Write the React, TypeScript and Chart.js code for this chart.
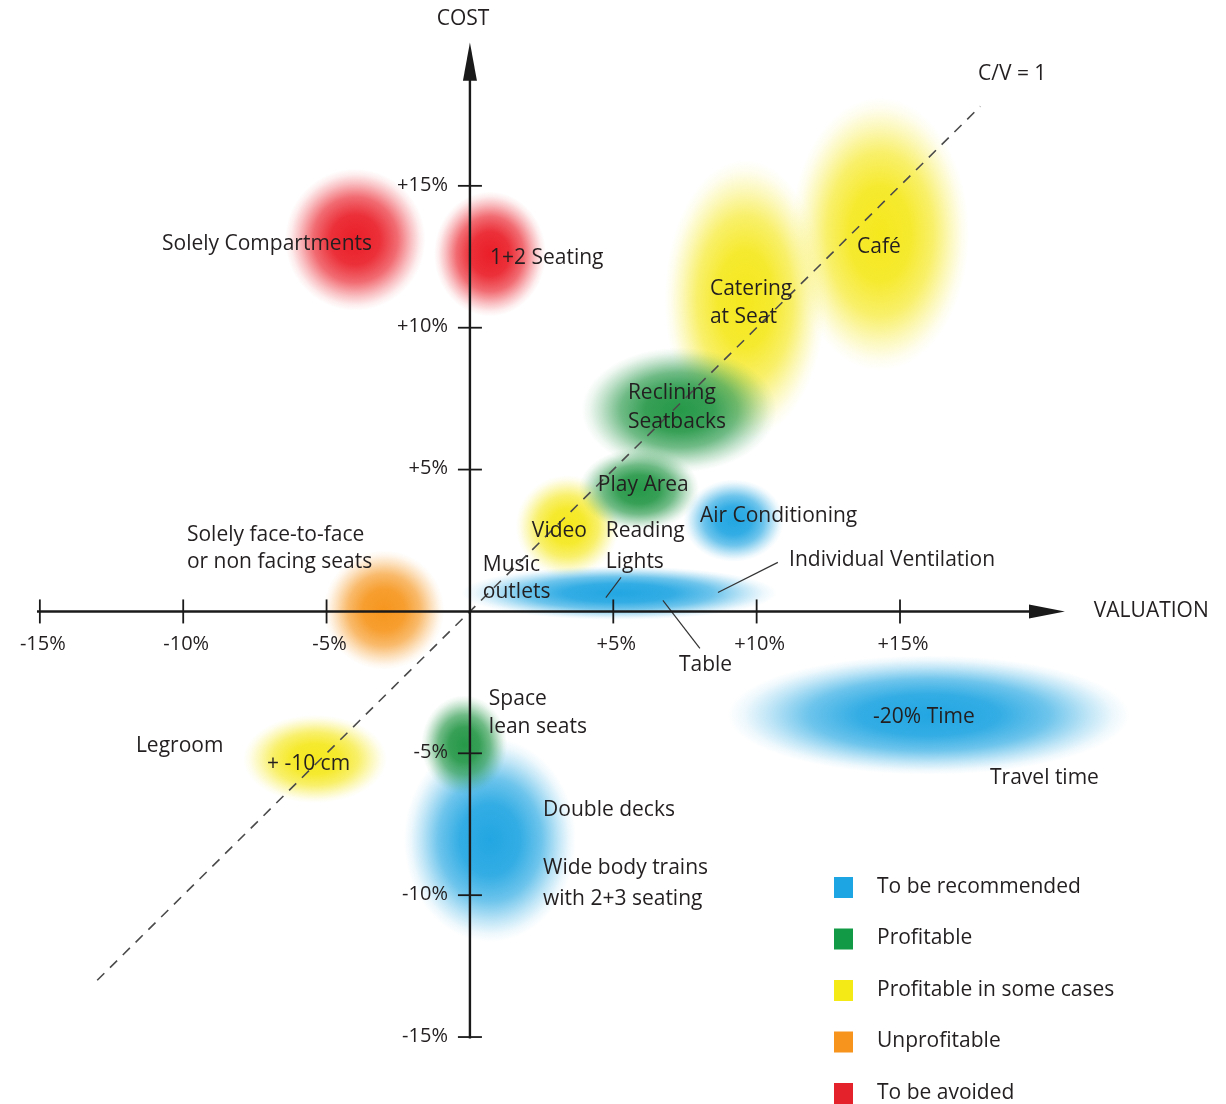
import React, { useEffect, useRef } from "react";
import { Chart, registerables } from "chart.js";

Chart.register(...registerables);

const FONT = '"Open Sans", "DejaVu Sans", sans-serif';
const INK = "#231f20";

// Axis ranges (percent)
const X_MIN = -16.39;
const X_MAX = 26.37;
const Y_MIN = -17.36;
const Y_MAX = 21.55;

// Tick values and labels
const xTickValues = [-15, -10, -5, 5, 10, 15];
const xTickLabels = ["-15%", "-10%", "-5%", "+5%", "+10%", "+15%"];
const yTickValues = [15, 10, 5, -5, -10, -15];
const yTickLabels = ["+15%", "+10%", "+5%", "-5%", "-10%", "-15%"];

// Legend categories
const categories = ["To be recommended", "Profitable", "Profitable in some cases", "Unprofitable", "To be avoided"];
const categoryColors = ["#1ca5e2", "#139a46", "#f3ea16", "#f7941d", "#e4222b"];
const categoryRGB = ["34,166,226", "38,152,72", "245,232,30", "246,150,30", "234,30,40"];

// Feature zones (draw order): category, valuation centre, cost centre, spread in valuation, spread in cost
const featureNames = [
  "Café", "Catering at Seat", "Legroom", "Video", "Reclining Seatbacks", "Play Area",
  "Air Conditioning", "Individual Ventilation / Table / Music outlets", "Solely face-to-face",
  "Solely Compartments", "1+2 Seating", "Double decks / Wide body trains", "Space lean seats", "Travel time",
];
const featureCategory = [2, 2, 2, 2, 1, 1, 0, 0, 3, 4, 4, 0, 1, 0];
const featureValuation = [14.3, 9.6, -5.4, 3.4, 7.3, 5.9, 9.2, 5.2, -3.0, -4.0, 0.7, 0.7, -0.2, 16.0];
const featureCost = [13.3, 11.0, -5.2, 3.0, 7.1, 4.3, 3.2, 0.65, 0.05, 13.1, 12.6, -8.05, -4.7, -3.65];
const featureSpreadX = [3.1, 2.8, 2.5, 1.8, 3.4, 2.1, 1.75, 5.5, 2.1, 2.45, 1.95, 3.0, 1.5, 7.0];
const featureSpreadY = [4.8, 4.9, 1.55, 1.8, 2.2, 1.45, 1.45, 0.95, 2.1, 2.5, 2.2, 3.6, 1.75, 2.1];

// C/V = 1 line end points
const ratioLineX = [-13, 17.8];
const ratioLineY = [-13, 17.8];

// Text annotations: text, valuation, cost (left-aligned)
const labelTexts = [
  "Solely Compartments", "1+2 Seating", "Catering", "at Seat", "Café", "Reclining", "Seatbacks",
  "Play Area", "Video", "Reading", "Lights", "Air Conditioning", "Individual Ventilation", "Music",
  "outlets", "Solely face-to-face", "or non facing seats", "Table", "Space", "lean seats", "Legroom",
  "+ -10 cm", "-20% Time", "Travel time", "Double decks", "Wide body trains", "with 2+3 seating", "C/V = 1",
];
const labelX = [
  -10.74, 0.70, 8.37, 8.37, 13.50, 5.51, 5.51,
  4.46, 2.16, 4.74, 4.74, 8.02, 11.13, 0.45,
  0.45, -9.87, -9.87, 7.29, 0.66, 0.66, -11.65,
  -7.08, 14.06, 18.14, 2.55, 2.55, 2.55, 17.72,
];
const labelY = [
  12.96, 12.46, 11.37, 10.39, 12.85, 7.71, 6.69,
  4.44, 2.82, 2.82, 1.73, 3.38, 1.83, 1.65,
  0.67, 2.71, 1.73, -1.90, -3.10, -4.08, -4.75,
  -5.39, -3.73, -5.88, -7.01, -9.05, -10.14, 18.94,
];

// Leader lines: [x1, y1, x2, y2]
const leaderLines = [
  [10.74, 1.73, 8.65, 0.67],
  [6.73, 0.39, 8.02, -1.30],
  [5.27, 1.2, 4.74, 0.49],
];

const blobPlugin = {
  id: "blobs",
  beforeDatasetsDraw(chart: any) {
    const { ctx, scales } = chart;
    const xs = scales.x;
    const ys = scales.y;
    for (let i = 0; i < featureNames.length; i++) {
      const cx = xs.getPixelForValue(featureValuation[i]);
      const cy = ys.getPixelForValue(featureCost[i]);
      const rx = Math.abs(xs.getPixelForValue(featureValuation[i] + featureSpreadX[i]) - cx);
      const ry = Math.abs(ys.getPixelForValue(featureCost[i] + featureSpreadY[i]) - cy);
      const rgb = categoryRGB[featureCategory[i]];
      ctx.save();
      ctx.translate(cx, cy);
      ctx.scale(rx, ry);
      const g = ctx.createRadialGradient(0, 0, 0, 0, 0, 1);
      g.addColorStop(0, `rgba(${rgb},1)`);
      g.addColorStop(0.35, `rgba(${rgb},0.92)`);
      g.addColorStop(0.6, `rgba(${rgb},0.66)`);
      g.addColorStop(0.8, `rgba(${rgb},0.28)`);
      g.addColorStop(0.92, `rgba(${rgb},0.08)`);
      g.addColorStop(1, `rgba(${rgb},0)`);
      ctx.fillStyle = g;
      ctx.beginPath();
      ctx.arc(0, 0, 1, 0, Math.PI * 2);
      ctx.fill();
      ctx.restore();
    }
  },
  afterDatasetsDraw(chart: any) {
    const { ctx, scales, chartArea } = chart;
    const xs = scales.x;
    const ys = scales.y;
    const px = (v: number) => xs.getPixelForValue(v);
    const py = (v: number) => ys.getPixelForValue(v);
    const x0 = px(0);
    const y0 = py(0);

    ctx.save();
    // leader lines
    ctx.strokeStyle = "#333";
    ctx.lineWidth = 1.2;
    for (const l of leaderLines) {
      ctx.beginPath();
      ctx.moveTo(px(l[0]), py(l[1]));
      ctx.lineTo(px(l[2]), py(l[3]));
      ctx.stroke();
    }

    // axes
    ctx.strokeStyle = "#1a1a1a";
    ctx.fillStyle = "#1a1a1a";
    ctx.lineWidth = 2.4;
    const xStart = px(-15.1);
    const xTip = px(20.75);
    const xBase = px(19.5);
    ctx.beginPath();
    ctx.moveTo(xStart, y0);
    ctx.lineTo(xBase + 2, y0);
    ctx.stroke();
    ctx.beginPath();
    ctx.moveTo(xTip, y0);
    ctx.lineTo(xBase, y0 - 7);
    ctx.lineTo(xBase, y0 + 7);
    ctx.closePath();
    ctx.fill();

    const yStart = py(-15.05);
    const yTip = py(20.05);
    const yBase = py(18.7);
    ctx.beginPath();
    ctx.moveTo(x0, yStart);
    ctx.lineTo(x0, yBase - 2);
    ctx.stroke();
    ctx.beginPath();
    ctx.moveTo(x0, yTip);
    ctx.lineTo(x0 - 7, yBase);
    ctx.lineTo(x0 + 7, yBase);
    ctx.closePath();
    ctx.fill();

    // ticks
    ctx.lineWidth = 1.8;
    for (const v of xTickValues) {
      ctx.beginPath();
      ctx.moveTo(px(v), y0 - 12);
      ctx.lineTo(px(v), y0 + 12);
      ctx.stroke();
    }
    for (const v of yTickValues) {
      ctx.beginPath();
      ctx.moveTo(x0 - 12, py(v));
      ctx.lineTo(x0 + 12, py(v));
      ctx.stroke();
    }

    // tick labels
    ctx.fillStyle = INK;
    ctx.font = `20px ${FONT}`;
    ctx.textAlign = "center";
    ctx.textBaseline = "middle";
    xTickValues.forEach((v, i) => {
      ctx.fillText(xTickLabels[i], px(v) + 3, y0 + 33);
    });
    ctx.textAlign = "right";
    yTickValues.forEach((v, i) => {
      ctx.fillText(yTickLabels[i], x0 - 22, py(v) - 1);
    });

    // axis titles
    ctx.font = `21px ${FONT}`;
    ctx.textAlign = "center";
    ctx.fillText("COST", px(-0.24), py(20.88));
    ctx.textAlign = "left";
    ctx.fillText("VALUATION", px(21.76), y0);

    // annotations
    ctx.font = `21px ${FONT}`;
    ctx.textAlign = "left";
    labelTexts.forEach((t, i) => {
      ctx.fillText(t, px(labelX[i]), py(labelY[i]));
    });

    // legend
    const lx = chartArea.left + 834;
    const ly = chartArea.top + 887;
    categories.forEach((c, i) => {
      const yy = ly + i * 51.5;
      ctx.fillStyle = categoryColors[i];
      ctx.fillRect(lx, yy - 10, 19, 21);
      ctx.fillStyle = INK;
      ctx.fillText(c, lx + 43, yy);
    });
    ctx.restore();
  },
};

export default function App() {
  const canvasRef = useRef<HTMLCanvasElement | null>(null);

  useEffect(() => {
    if (!canvasRef.current) return;
    const chart = new Chart(canvasRef.current, {
      type: "scatter",
      data: {
        datasets: [
          {
            label: "C/V = 1",
            data: ratioLineX.map((x, i) => ({ x, y: ratioLineY[i] })),
            showLine: true,
            borderColor: "#4a4a4a",
            borderWidth: 1.6,
            borderDash: [10, 8],
            pointRadius: 0,
            fill: false,
          },
          {
            label: "Features",
            data: featureValuation.map((x, i) => ({ x, y: featureCost[i] })),
            pointRadius: 0,
            showLine: false,
          },
        ],
      },
      options: {
        animation: false,
        responsive: true,
        maintainAspectRatio: false,
        layout: { padding: 0 },
        plugins: { legend: { display: false }, tooltip: { enabled: false } },
        scales: {
          x: { type: "linear", min: X_MIN, max: X_MAX, display: false },
          y: { type: "linear", min: Y_MIN, max: Y_MAX, display: false },
        },
      },
      plugins: [blobPlugin],
    });
    return () => chart.destroy();
  }, []);

  return (
    <div style={{ position: "absolute", left: 0, top: 0, width: 1226, height: 1104, background: "#fff" }}>
      <canvas ref={canvasRef} />
    </div>
  );
}
